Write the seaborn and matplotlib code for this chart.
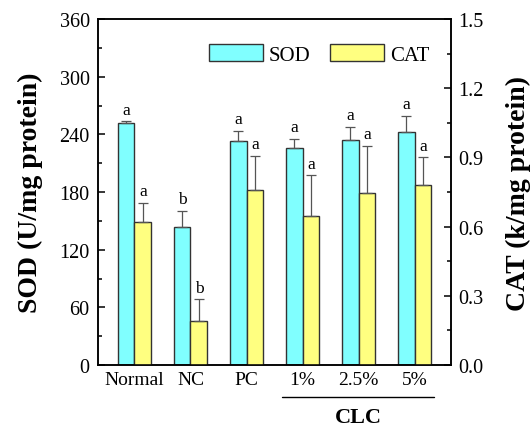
import matplotlib
matplotlib.use("Agg")
import matplotlib.pyplot as plt
import seaborn as sns
import numpy as np
import pandas as pd
from matplotlib.patches import Patch
from matplotlib.ticker import MultipleLocator

groups = ["Normal", "NC", "PC", "1%", "2.5%", "5%"]
sod_vals = [252, 144, 233, 226, 234, 242]
sod_err = [1.5, 16, 11, 9, 14, 17]
cat_vals = [0.62, 0.19, 0.757, 0.645, 0.746, 0.782]
cat_err = [0.082, 0.094, 0.148, 0.177, 0.202, 0.118]
sod_letters = ["a", "b", "a", "a", "a", "a"]
cat_letters = ["a", "b", "a", "a", "a", "a"]
series = ["SOD", "CAT"]
colors = {"SOD": "#80FFFF", "CAT": "#FFFF80"}

sns.set_style("ticks")
plt.rcParams["font.family"] = ["Liberation Serif", "DejaVu Serif"]
for k in ("text.color", "axes.labelcolor", "xtick.color", "ytick.color"):
    plt.rcParams[k] = "black"

df_sod = pd.DataFrame({"group": groups, "value": sod_vals, "enzyme": "SOD"})
df_cat = pd.DataFrame({"group": groups, "value": cat_vals, "enzyme": "CAT"})

fig = plt.figure(figsize=(5.31, 4.27), dpi=100)
ax = fig.add_axes([0.1846, 0.1429, 0.6648, 0.8101])
ax2 = ax.twinx()

common = dict(x="group", y="value", hue="enzyme", hue_order=series, order=groups,
              palette=colors, width=0.6, gap=0, dodge=True, saturation=1,
              legend=False, edgecolor="#333333", linewidth=1.0, errorbar=None)
sns.barplot(data=df_sod, ax=ax, **common)
sns.barplot(data=df_cat, ax=ax2, **common)

def centers(a):
    ps = [p for p in a.patches if p.get_height() > 0]
    ps.sort(key=lambda p: p.get_x())
    return [p.get_x() + p.get_width() / 2 for p in ps]

xs_sod = centers(ax)
xs_cat = centers(ax2)

ax.errorbar(xs_sod, sod_vals, yerr=[np.zeros(len(sod_err)), sod_err], fmt="none",
            ecolor="#555555", elinewidth=0.9, capsize=3.5, capthick=0.9)
ax2.errorbar(xs_cat, cat_vals, yerr=[np.zeros(len(cat_err)), cat_err], fmt="none",
             ecolor="#555555", elinewidth=0.9, capsize=3.5, capthick=0.9)

for x, v, e, t in zip(xs_sod, sod_vals, sod_err, sod_letters):
    ax.text(x, v + e + 4, t, ha="center", va="bottom", fontsize=12.5)
for x, v, e, t in zip(xs_cat, cat_vals, cat_err, cat_letters):
    ax2.text(x, v + e + 0.017, t, ha="center", va="bottom", fontsize=12.5)

ax.set_xlim(-0.65, 5.65)
ax.set_ylim(0, 360)
ax2.set_ylim(0, 1.5)
ax.yaxis.set_major_locator(MultipleLocator(60))
ax.yaxis.set_minor_locator(MultipleLocator(30))
ax2.yaxis.set_major_locator(MultipleLocator(0.3))
ax2.yaxis.set_minor_locator(MultipleLocator(0.15))
ax2.set_yticks(ax2.get_yticks())
ax2.set_yticklabels([f"{v:.1f}" for v in ax2.get_yticks()])
ax2.set_ylim(0, 1.5)

ax.tick_params(axis="y", direction="in", length=5, width=1.1, labelsize=14.5, pad=6)
ax.tick_params(axis="y", which="minor", direction="in", length=3, width=1.1)
ax2.tick_params(axis="y", direction="in", length=5, width=1.1, labelsize=14.5, pad=5)
ax2.tick_params(axis="y", which="minor", direction="in", length=3, width=1.1)
ax.tick_params(axis="x", length=0, labelsize=14, pad=4)

for a in (ax, ax2):
    for s in a.spines.values():
        s.set_visible(True)
        s.set_linewidth(1.1)
        s.set_color("black")

ax.set_xlabel("")
ax.set_ylabel("SOD (U/mg protein)", fontsize=20, fontweight="bold", labelpad=12)
ax2.set_ylabel("CAT (k/mg protein)", fontsize=20, fontweight="bold", labelpad=16,
               rotation=90)

handles = [Patch(facecolor=colors[s], edgecolor="#333333", label=s) for s in series]
ax2.legend(handles=handles, loc="upper right", ncol=2, frameon=False, fontsize=15,
           handlelength=2.6, handleheight=0.9, columnspacing=0.9, handletextpad=0.3,
           bbox_to_anchor=(0.974, 0.965), borderaxespad=0.2)

# CLC bracket line and label under the axis
x0 = xs_sod[3] - 0.22
x1 = xs_cat[5] + 0.195
trans = ax.get_xaxis_transform()
ax.plot([x0, x1], [-0.0925, -0.0925], color="black", lw=1.0, transform=trans, clip_on=False)
ax.text((x0 + x1) / 2, -0.15, "CLC", transform=trans, ha="center", va="center",
        fontsize=16, fontweight="bold")

fig.savefig("out.png", dpi=100)
